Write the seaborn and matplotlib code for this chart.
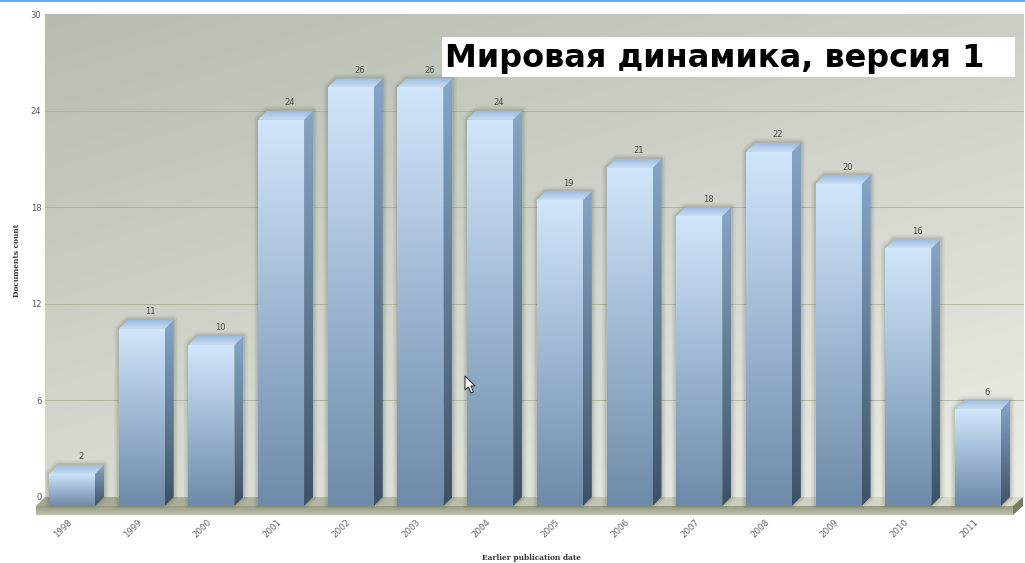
import numpy as np
import pandas as pd
import matplotlib
matplotlib.use("Agg")
import matplotlib.pyplot as plt
import seaborn as sns
from matplotlib.colors import to_rgb
from matplotlib.patches import Polygon, Rectangle
from matplotlib.transforms import Affine2D, IdentityTransform, ScaledTranslation

years = ["1998", "1999", "2000", "2001", "2002", "2003", "2004",
         "2005", "2006", "2007", "2008", "2009", "2010", "2011"]
documents = [2, 11, 10, 24, 26, 26, 24, 19, 21, 18, 22, 20, 16, 6]
y_ticks = [0, 6, 12, 18, 24, 30]
title_text = "Мировая динамика, версия 1"
x_title = "Earlier publication date"
y_title = "Documents count"

W, H = 1025, 563
DEPTH = 9  # pixel depth of the 3D extrusion
sns.set_theme(style="white")
plt.rcParams["font.family"] = ["DejaVu Sans"]

fig = plt.figure(figsize=(W / 100, H / 100), dpi=100, facecolor="white")
L, R, T, B = 45, 1024, 14, 497
ax = fig.add_axes([L / W, 1 - B / H, (R - L) / W, (B - T) / H])

df = pd.DataFrame({"year": years, "documents": documents})
sns.barplot(data=df, x="year", y="documents", ax=ax, width=0.66,
            color="#a0bcd8", saturation=1, errorbar=None, linewidth=0, edgecolor="none")
ax.set_autoscale_on(False)
ax.set_ylim(0, 30)
x0 = (L - 72) / 69.69
x1 = (R - 72) / 69.69
ax.set_xlim(x0, x1)
for s in ax.spines.values():
    s.set_visible(False)

px = Affine2D().scale(1, -1).translate(0, H)  # reference pixels -> display


def vgrad(top, bottom, n=128):
    t = np.linspace(0, 1, n)[:, None, None]
    return (1 - t) * np.array(to_rgb(top))[None, None, :] + t * np.array(to_rgb(bottom))[None, None, :]


def fill(arr, xs, ys, z, clip_pts=None):
    """Paint arr over the display-space box, optionally clipped to a polygon."""
    im = ax.imshow(arr, extent=(min(xs), max(xs), min(ys), max(ys)), origin="upper",
                   aspect="auto", transform=IdentityTransform(), zorder=z,
                   interpolation="bilinear")
    im.set_clip_box(fig.bbox)
    if clip_pts is not None:
        poly = Polygon(clip_pts, closed=True, transform=IdentityTransform())
        im.set_clip_path(poly)
    return im


def pxy(points):
    return px.transform(np.array(points, dtype=float))


# wall with diagonal gradient
wall_tl, wall_br = np.array(to_rgb("#b6bcb0")), np.array(to_rgb("#eceee6"))
gx, gy = np.meshgrid(np.linspace(0, 1, 200), np.linspace(0, 1, 200))
g = (0.62 * gy + 0.38 * gx)[:, :, None]
wall = (1 - g) * wall_tl + g * wall_br
box = pxy([[L, T], [R, B]])
fill(wall, box[:, 0], box[:, 1], 0.1)

# gridlines
ax.set_yticks(y_ticks)
ax.set_yticklabels([str(v) for v in y_ticks])
ax.grid(False)
for v in y_ticks[1:-1]:
    ax.axhline(v, color="#a4ab92", lw=0.7, alpha=0.75, zorder=0.5)

# floor
floor_pts = pxy([[L, 497], [R, 497], [1013, 506], [36, 506]])
floor = np.linspace(0, 1, 200)[None, :, None] * (np.array(to_rgb("#dcdece")) - np.array(to_rgb("#a3a890"))) + np.array(to_rgb("#a3a890"))
fill(floor, floor_pts[:, 0], floor_pts[:, 1], 0.6, floor_pts)
strip = pxy([[36, 506], [1013, 506], [1013, 515], [36, 515]])
fill(vgrad("#969b82", "#c0c3af"), strip[:, 0], strip[:, 1], 0.7, strip)
side = pxy([[1013, 506], [R - 1, 497], [R - 1, 506], [1013, 515]])
ax.add_patch(Polygon(side, closed=True, transform=IdentityTransform(), fc="#777d62", ec="none", zorder=0.7, clip_on=False))

# bars: shift seaborn's rectangles forward and dress them with gradient faces
front_off = Affine2D().translate(-0, -DEPTH)
for bar, val in zip(ax.patches, documents):
    (xa, ya), (xb, yb) = ax.transData.transform([(bar.get_x(), 0), (bar.get_x() + bar.get_width(), bar.get_height())])
    ya -= DEPTH
    yb -= DEPTH
    bar.set_transform(ax.transData + front_off)
    bar.set_clip_on(False)
    bar.set_zorder(2)
    d = DEPTH
    hexa = [(xa, ya + 1), (xb, ya + 1), (xb + d, ya + d), (xb + d, yb + d), (xa + d, yb + d), (xa, yb)]
    for lw, a in [(9, .06), (6, .08), (3, .12)]:
        ax.add_patch(Polygon(hexa, closed=True, transform=IdentityTransform(), fc="none",
                             ec="#4e5240", lw=lw * 0.72, alpha=a, joinstyle="round", zorder=1.5, clip_on=False))
    fp = [(xa, ya), (xb, ya), (xb, yb), (xa, yb)]
    fill(vgrad("#d0e6fc", "#6d8aa9"), [xa, xb], [ya, yb], 2.1, fp)
    sp = [(xb, ya), (xb + d, ya + d), (xb + d, yb + d), (xb, yb)]
    fill(vgrad("#86a6c6", "#3e5266"), [xb, xb + d], [ya, yb + d], 2.1, sp)
    tp = [(xa, yb), (xb, yb), (xb + d, yb + d), (xa + d, yb + d)]
    fill(vgrad("#9dbddd", "#c8def2"), [xa, xb + d], [yb, yb + d], 2.1, tp)
    ax.annotate(str(val), (bar.get_x() + bar.get_width() / 2, val), xytext=(9, 8),
                textcoords="offset pixels", ha="center", va="center",
                fontsize=6.0, color="#4a4a45", zorder=5, annotation_clip=False)

# ticks and axis titles
ax.set_xlabel("")
ax.set_ylabel("")
ax.tick_params(axis="y", length=0, pad=2.6, labelsize=6.0, labelcolor="#555555")
ax.tick_params(axis="x", length=0, pad=23, labelsize=6.2, labelcolor="#666666")
ax.set_xticks(range(len(years)))
ax.set_xticklabels(years, rotation=45, ha="center", va="center")
shift = ScaledTranslation(-9 / 100, 0, fig.dpi_scale_trans)
for lab in ax.get_xticklabels():
    lab.set_transform(lab.get_transform() + shift)

fig.text(17 / W, 1 - 260 / H, y_title, rotation=90, ha="center", va="center",
         fontsize=5.4, fontweight="bold", family="DejaVu Serif", color="#333333")
fig.text(532 / W, 1 - 558 / H, x_title, ha="center", va="center",
         fontsize=5.4, fontweight="bold", family="DejaVu Serif", color="#333333")

# top blue strip
fig.add_artist(Rectangle((0, 1 - 2 / H), 1, 2 / H, transform=fig.transFigure, fc="#6aa9f5", ec="none"))

# white title box
fig.add_artist(Rectangle((442 / W, 1 - 77 / H), (1015 - 442) / W, 40 / H, transform=fig.transFigure,
                         fc="white", ec="none", zorder=6))
fig.text(445 / W, 1 - 59 / H, title_text, ha="left", va="center", fontsize=23,
         fontweight="bold", color="black", zorder=7)

# mouse pointer from the screenshot
cur = np.array([[465, 376], [465, 390], [468.5, 387], [471, 393], [473.5, 392], [471, 386], [475, 386]], float)
fig.add_artist(Polygon(cur[:, :] / [W, H] * [1, -1] + [0, 1], closed=True, transform=fig.transFigure,
                       fc="white", ec="#222222", lw=0.7, zorder=8))

fig.savefig("out.png", dpi=100, facecolor="white")
